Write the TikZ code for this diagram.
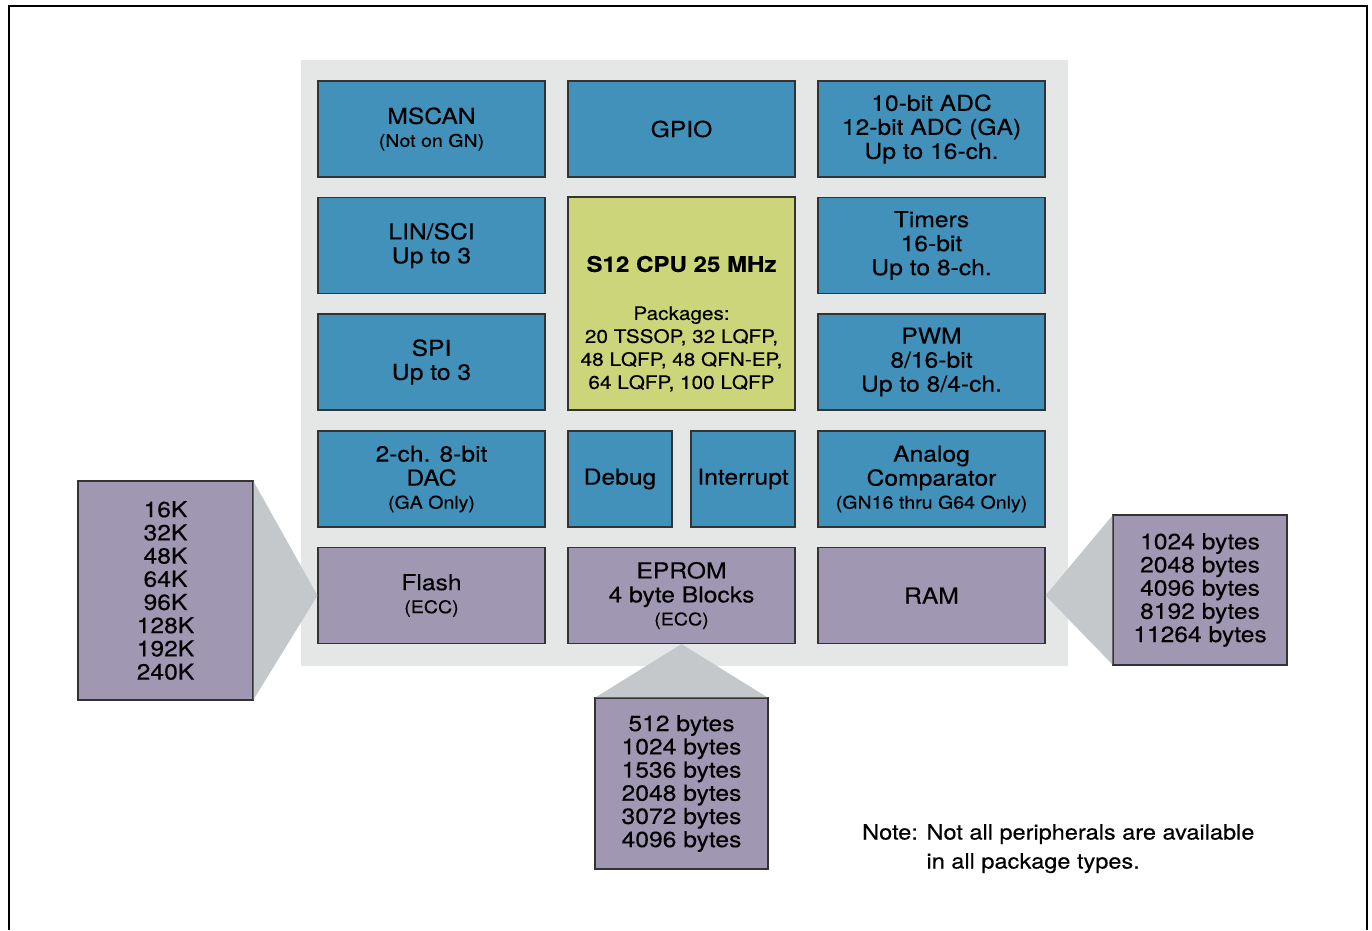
\documentclass[tikz,border=0pt]{standalone}
\usepackage{fontspec}
\setmainfont{TeX Gyre Heros}[FakeStretch=1.12,FakeBold=0.3]
\definecolor{blk}{HTML}{4291BA}
\definecolor{mem}{HTML}{A097B3}
\definecolor{cpu}{HTML}{CCD57A}
\definecolor{bgg}{HTML}{E5E6E6}
\definecolor{tri}{HTML}{C4C8CA}
\begin{document}
\begin{tikzpicture}[x=1pt,y=-1pt,
  box/.style={draw=black!80,line width=1.1pt,minimum width=227pt,minimum height=96pt,inner sep=0pt,align=center,font=\fontsize{22}{24}\selectfont},
  bluebox/.style={box,fill=blk},
  membox/.style={box,fill=mem},
  listbox/.style={membox,font=\fontsize{22}{23.2}\selectfont}]
\newcommand{\smalltxt}{\fontsize{17.5}{20}\selectfont}
\useasboundingbox (0,0) rectangle (1372,930);
\fill[white] (0,0) rectangle (1372,930);
\draw[line width=2.4pt] (9,930) -- (9,6) -- (1367,6) -- (1367,930);
% background
\fill[bgg] (301,60) rectangle (1068,666);
% memory boxes (outside)
\node[listbox,minimum width=175pt,minimum height=219pt] (lmem) at (165.5,590.5) {16K\\32K\\48K\\64K\\96K\\128K\\192K\\240K};
\node[listbox,minimum width=174pt,minimum height=150pt] (rmem) at (1200,590) {1024 bytes\\2048 bytes\\4096 bytes\\8192 bytes\\11264 bytes};
\node[listbox,minimum width=173pt,minimum height=171pt] (bmem) at (681.5,783.5) {512 bytes\\1024 bytes\\1536 bytes\\2048 bytes\\3072 bytes\\4096 bytes};
% blocks
\node[bluebox] (mscan) at (431.5,129) {MSCAN\\[-1pt]{\smalltxt (Not on GN)}};
\node[bluebox] (gpio) at (681.5,129) {GPIO};
\node[bluebox] (adc) at (931.5,129) {10-bit ADC\\12-bit ADC (GA)\\Up to 16-ch.};
\node[bluebox] (lin) at (431.5,245.5) {LIN/SCI\\Up to 3};
\node[bluebox] (tim) at (931.5,245.5) {Timers\\16-bit\\Up to 8-ch.};
\node[bluebox] (spi) at (431.5,362) {SPI\\Up to 3};
\node[bluebox] (pwm) at (931.5,362) {PWM\\8/16-bit\\Up to 8/4-ch.};
\node[box,fill=cpu,minimum height=213pt] (cpu) at (681.5,303.5) {};
\node[font=\fontsize{21.5}{24}\selectfont\bfseries] (cputitle) at (681.5,264) {S12 CPU 25 MHz};
\node[font=\fontsize{18.5}{23}\selectfont,align=center] (pkg) at (681.5,349) {Packages:\\20 TSSOP, 32 LQFP,\\48 LQFP, 48 QFN-EP,\\64 LQFP, 100 LQFP};
\node[bluebox] (dac) at (431.5,479) {2-ch. 8-bit\\DAC\\[-1pt]{\smalltxt (GA Only)}};
\node[bluebox,minimum width=104pt] (dbg) at (620,479) {Debug};
\node[bluebox,minimum width=104pt] (irq) at (743,479) {Interrupt};
\node[bluebox] (cmp) at (931.5,479) {Analog\\Comparator\\[-1pt]{\smalltxt (GN16 thru G64 Only)}};
\node[membox] (flash) at (431.5,595.5) {Flash\\[-1pt]{\smalltxt (ECC)}};
\node[membox] (eprom) at (681.5,595.5) {EPROM\\4 byte Blocks\\[-1pt]{\smalltxt (ECC)}};
\node[membox] (ram) at (931.5,595.5) {RAM};
% triangles
\fill[tri] ([yshift=-1pt]lmem.north east) -- (flash.west) -- ([yshift=1pt]lmem.south east) -- cycle;
\fill[tri] ([yshift=-1pt]rmem.north west) -- (ram.east) -- ([yshift=1pt]rmem.south west) -- cycle;
\fill[tri] ([xshift=1pt]bmem.north west) -- (eprom.south) -- ([xshift=-1pt]bmem.north east) -- cycle;
% note
\node[font=\fontsize{21}{29}\selectfont,align=left,anchor=north west,inner sep=0pt] (note) at (862,824) {Note: Not all peripherals are available\\\hphantom{Note: }in all package types.};
\end{tikzpicture}
\end{document}
